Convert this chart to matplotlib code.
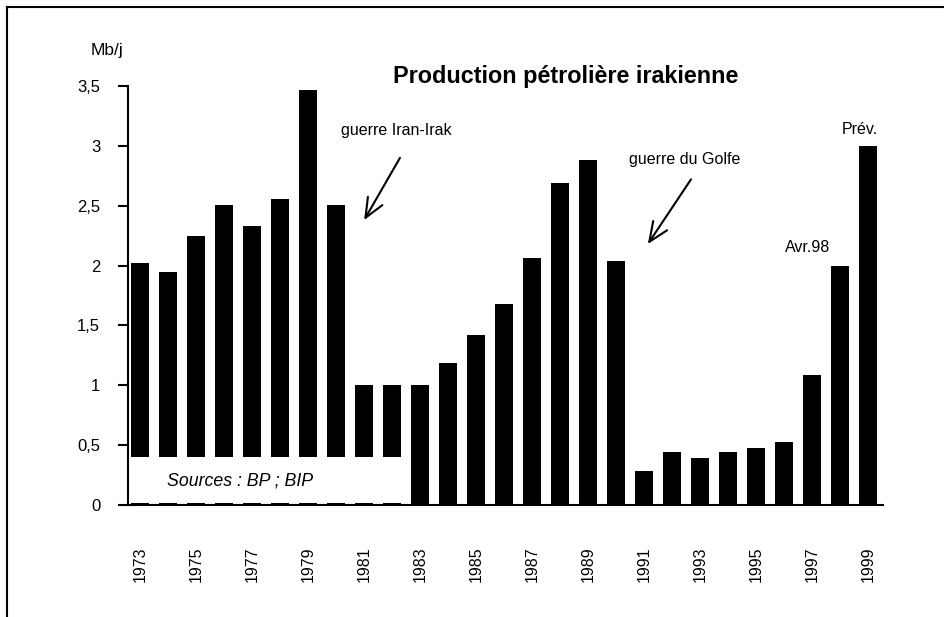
import matplotlib.pyplot as plt
from matplotlib.lines import Line2D
from matplotlib.patches import Rectangle

# Données : production pétrolière irakienne (Mb/j)
years = list(range(1973, 2000))
production = [2.02, 1.95, 2.25, 2.51, 2.33, 2.56, 3.47, 2.51, 1.00, 1.00,
              1.00, 1.19, 1.42, 1.68, 2.06, 2.69, 2.88, 2.04, 0.28, 0.44,
              0.395, 0.44, 0.48, 0.53, 1.09, 2.00, 3.00]
y_ticks = [0, 0.5, 1, 1.5, 2, 2.5, 3, 3.5]
y_tick_labels = ['0', '0,5', '1', '1,5', '2', '2,5', '3', '3,5']

narrow = ['Liberation Sans Narrow', 'Liberation Sans', 'DejaVu Sans']
arial = ['Liberation Sans', 'DejaVu Sans']

fig = plt.figure(figsize=(9.44, 6.17), dpi=100)
ax = fig.add_axes([128/944, 1 - 505/617, (883 - 128)/944, (505 - 86)/617])

x = list(range(len(years)))
ax.bar(x, production, width=0.66, color='black', zorder=2)

ax.set_xlim(-0.42, 26.535)
ax.set_ylim(0, 3.5)

# cadre blanc de la source (masque le bas des barres)
ax.add_patch(Rectangle((-0.42, 0.02), 9.92, 0.38, facecolor='white',
                       edgecolor='none', zorder=3))
ax.text(0.96, 0.20, 'Sources : BP ; BIP', fontsize=12.8, style='italic',
        family=arial, ha='left', va='center', zorder=4)

# axes
for s in ['top', 'right']:
    ax.spines[s].set_visible(False)
for s in ['left', 'bottom']:
    ax.spines[s].set_linewidth(1.5)
    ax.spines[s].set_zorder(5)

ax.set_yticks(y_ticks)
ax.set_yticklabels(y_tick_labels, family=narrow, fontsize=12)
ax.tick_params(axis='y', direction='out', length=7, width=1.5, pad=13)

ax.set_xticks(x[::2])
ax.set_xticklabels([str(y) for y in years[::2]], rotation=90,
                   family=narrow, fontsize=11.5)
ax.tick_params(axis='x', length=0, pad=30)

# titre et unité
fig.text(566/944, 1 - 77/617, 'Production pétrolière irakienne', fontsize=16.8,
         fontweight='bold', family=arial, ha='center', va='center')
fig.text(107/944, 1 - 51/617, 'Mb/j', fontsize=12.5, family=narrow,
         ha='center', va='center')

# annotations
arrow = dict(arrowstyle='->, head_length=0.7, head_width=0.3', lw=1.5,
             color='black', mutation_scale=20, shrinkA=0, shrinkB=0)
ax.text(9.15, 3.13, 'guerre Iran-Irak', fontsize=11.5, family=narrow,
        ha='center', va='center')
ax.annotate('', xy=(8.01, 2.38), xytext=(9.29, 2.90), arrowprops=arrow)
ax.text(19.46, 2.89, 'guerre du Golfe', fontsize=11.5, family=narrow,
        ha='center', va='center')
ax.annotate('', xy=(18.14, 2.18), xytext=(19.68, 2.72), arrowprops=arrow)
ax.text(23.85, 2.155, 'Avr.98', fontsize=11.5, family=narrow,
        ha='center', va='center')
ax.text(25.7, 3.14, 'Prév.', fontsize=11.5, family=narrow,
        ha='center', va='center')

# bordure du cadre (gauche et haut)
fig.add_artist(Line2D([7/944, 7/944], [0, 1 - 7/617], color='black', lw=1.5))
fig.add_artist(Line2D([7/944, 1], [1 - 7/617, 1 - 7/617], color='black', lw=1.5))

fig.savefig('out.png', dpi=100)
